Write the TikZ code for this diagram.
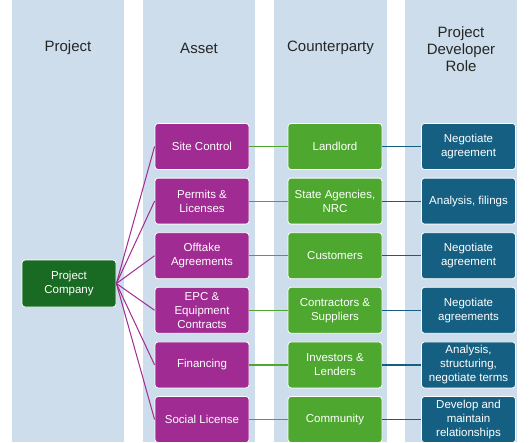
\documentclass[tikz,border=0pt]{standalone}
\usepackage{fontspec}
\setmainfont{Liberation Sans}
\definecolor{colbg}{HTML}{CDDDEB}
\definecolor{cpurple}{HTML}{A02B93}
\definecolor{cgreen}{HTML}{4EA72E}
\definecolor{cblue}{HTML}{156082}
\definecolor{cdkgreen}{HTML}{196B24}
\begin{document}
\begin{tikzpicture}[x=1pt,y=-1pt,
  colrect/.style={fill=colbg,draw=none},
  header/.style={align=center,font=\fontsize{15}{17}\selectfont,text=black!85},
  boxbase/.style={rounded corners=3pt,draw=white,line width=0.8pt,minimum width=94pt,minimum height=46pt,align=center,text=white,font=\fontsize{11.5}{14}\selectfont,inner sep=1pt},
  assetbox/.style={boxbase,fill=cpurple},
  cpbox/.style={boxbase,fill=cgreen},
  rolebox/.style={boxbase,fill=cblue},
  projbox/.style={boxbase,fill=cdkgreen,minimum height=47pt},
  plink/.style={cpurple,line width=1pt},
  glink/.style={cgreen,line width=1.2pt},
  blink/.style={cblue,line width=1.2pt}
]
\useasboundingbox (0,0) rectangle (530,442);
\fill[white] (0,0) rectangle (530,442);
% columns
\fill[colrect] (12,0) rectangle (124,442);
\fill[colrect] (143,0) rectangle (255,442);
\fill[colrect] (274,0) rectangle (387,442);
\fill[colrect] (405,0) rectangle (517,442);
% headers
\node[header] (h1) at (68,48) {Project};
\node[header] (h2) at (199,48) {Asset};
\node[header] (h3) at (330.5,48) {Counterparty};
\node[header] (h4) at (461,49) {Project\\Developer\\Role};
% project company
\node[projbox] (pc) at (69,283.5) {Project\\Company};
% assets
\node[assetbox] (a1) at (202,146.5) {Site Control};
\node[assetbox] (a2) at (202,201.1) {Permits \&\\Licenses};
\node[assetbox] (a3) at (202,255.7) {Offtake\\Agreements};
\node[assetbox] (a4) at (202,310.3) {EPC \&\\Equipment\\Contracts};
\node[assetbox] (a5) at (202,364.9) {Financing};
\node[assetbox] (a6) at (202,419.5) {Social License};
% counterparties
\node[cpbox] (c1) at (335,146.5) {Landlord};
\node[cpbox] (c2) at (335,201.1) {State Agencies,\\NRC};
\node[cpbox] (c3) at (335,255.7) {Customers};
\node[cpbox] (c4) at (335,310.3) {Contractors \&\\Suppliers};
\node[cpbox] (c5) at (335,364.9) {Investors \&\\Lenders};
\node[cpbox] (c6) at (335,419.5) {Community};
% roles
\node[rolebox] (r1) at (468.5,146.5) {Negotiate\\agreement};
\node[rolebox] (r2) at (468.5,201.1) {Analysis, filings};
\node[rolebox] (r3) at (468.5,255.7) {Negotiate\\agreement};
\node[rolebox] (r4) at (468.5,310.3) {Negotiate\\agreements};
\node[rolebox] (r5) at (468.5,364.9) {Analysis,\\structuring,\\negotiate terms};
\node[rolebox] (r6) at (468.5,419.5) {Develop and\\maintain\\relationships};
% links
\foreach \i in {1,...,6}{
  \draw[plink] (pc.east) -- (a\i.west);
  \draw[glink] (a\i.east) -- (c\i.west);
  \draw[blink] (c\i.east) -- (r\i.west);
}
\end{tikzpicture}
\end{document}
